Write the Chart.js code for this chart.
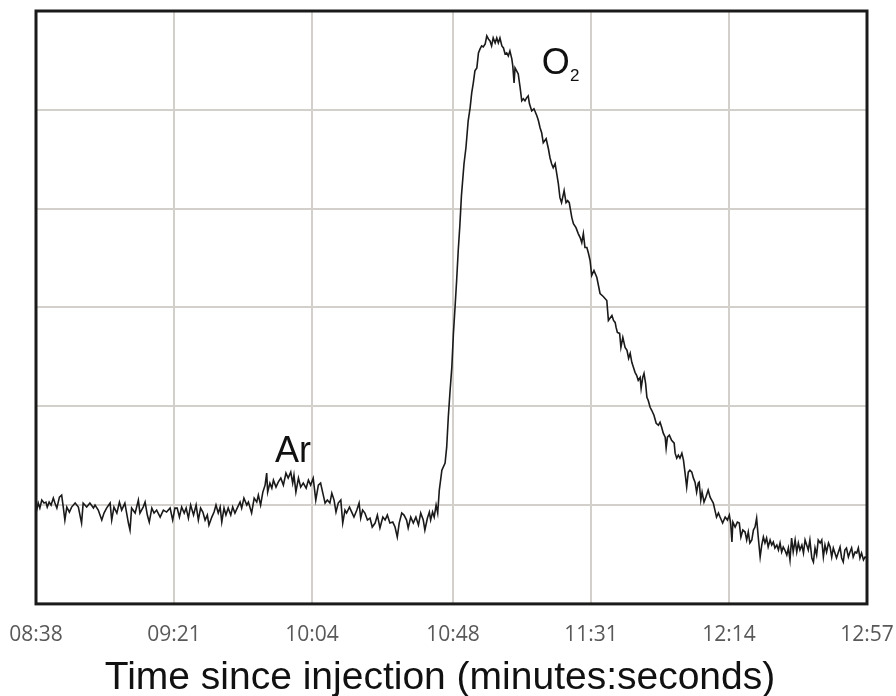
<!DOCTYPE html>
<html>
<head>
<meta charset="utf-8">
<script src="https://cdn.jsdelivr.net/npm/chart.js@4.4.1/dist/chart.umd.min.js"></script>
<style>
    html, body { margin: 0; padding: 0; background: #fff; }
    #wrap { width: 896px; height: 696px; }
</style>
</head>
<body>
<div id="wrap"><canvas id="myChart" width="896" height="696"></canvas></div>
<script>
// x axis tick labels (minutes:seconds since injection)
var tickLabels = ['08:38', '09:21', '10:04', '10:48', '11:31', '12:14', '12:57'];

// detector trace: time in seconds, signal in arbitrary units (one grid step = 99)
var timeSec = [
    518.0, 518.7, 519.2, 519.8, 520.5, 521.1, 521.5, 522.1, 522.7, 523.4, 523.9, 524.5, 525.3, 526.0, 526.5, 527.0, 527.6, 528.4, 529.1, 530.2,
    531.2, 532.2, 532.7, 533.8, 534.8, 535.9, 536.4, 537.4, 538.5, 539.2, 540.0, 541.1, 541.6, 542.3, 543.2, 544.0, 544.7, 545.7, 546.8, 547.3,
    547.8, 548.9, 549.9, 550.4, 551.4, 552.0, 552.7, 553.3, 554.1, 554.8, 555.6, 556.7, 557.7, 558.7, 559.8, 560.6, 561.3,
    562.0, 562.7, 563.4, 564.2, 564.8, 565.5, 566.2, 567.1, 567.9, 568.6, 569.3, 570.0, 570.7, 571.4, 571.9, 572.8, 573.5, 574.1, 574.8, 575.4,
    575.9, 576.6, 577.2, 577.9, 578.7, 579.3, 580.0, 580.7, 581.6, 582.1, 582.8, 583.7, 584.2, 585.2, 586.0, 586.8, 587.3, 588.0, 588.7, 589.4,
    589.9, 590.2, 590.9, 591.5, 592.0, 592.8, 593.5, 594.3, 595.1, 595.9, 596.6, 597.4, 598.0, 598.4, 599.0, 599.8, 600.5, 601.3, 602.2, 602.9,
    603.6, 604.4, 605.2, 606.0,
    606.7, 607.4, 608.1, 608.8, 609.6, 610.2, 610.9, 611.5, 612.2, 613.0, 613.6, 614.3, 614.8, 615.7, 616.4, 617.1, 618.0, 618.7, 619.2, 619.8,
    620.5, 621.3, 622.1, 622.8, 623.7, 624.4, 625.2, 626.1, 626.8, 627.5, 628.3, 629.2, 629.9, 630.6, 631.2, 632.0, 632.7, 633.5, 634.0, 634.8,
    635.6, 636.4, 637.2, 637.9, 638.7, 639.2, 640.0, 640.6, 641.0, 641.6, 642.1, 642.7, 643.2, 643.7, 644.5,
    645.5, 646.0, 646.5, 647.0, 647.6, 648.1, 648.6, 649.1, 649.6, 650.1, 650.6, 651.4, 652.0, 652.7, 653.3, 653.8, 654.3, 654.8, 655.4, 655.9,
    656.4, 656.9, 657.4, 658.0, 658.5, 659.0, 659.5, 660.0, 660.5, 661.1, 661.6, 662.1, 662.6, 663.2, 663.7, 664.2, 664.7, 665.2, 665.7, 666.3,
    666.6, 667.0, 667.3, 667.8, 668.3, 668.9, 669.4, 669.9, 670.4, 670.9, 671.4, 671.8, 672.5, 673.2, 674.1, 674.6, 675.1, 675.6, 676.1, 677.0,
    677.7, 678.2, 678.7, 679.2, 679.8, 680.3, 680.8, 681.3, 681.8, 682.6, 683.2, 683.7, 684.2, 685.0, 685.5, 686.3, 687.0, 687.6, 688.1, 688.6,
    689.1, 689.7, 690.2, 690.7, 691.2, 691.9, 692.8, 693.8, 694.8, 695.9, 696.4, 697.5, 698.0, 698.5, 698.8, 699.2, 699.9, 700.3, 700.9, 701.6,
    702.2, 702.7, 703.2, 703.7, 704.2, 704.7, 705.2, 705.7, 706.3, 706.6, 707.1, 707.5, 708.0, 708.4, 708.8, 709.4, 709.9, 710.6, 711.3, 712.0,
    712.5, 713.0, 713.5, 714.1, 714.4, 714.8, 715.4, 716.1, 716.9, 717.2, 717.7, 718.2, 718.7, 719.3, 719.8, 720.3, 720.8, 721.3, 721.8, 722.4,
    722.9, 723.4, 723.9, 724.4, 724.7, 725.2, 725.6, 726.2, 726.8, 727.5, 728.1, 728.6, 729.1, 729.6, 730.1, 730.7, 731.2, 732.0, 732.8, 733.5,
    734.1, 734.5, 734.9, 735.2, 735.9, 736.6, 737.2, 737.7, 738.3, 739.0, 739.5, 740.0, 740.5, 741.1, 741.6, 742.1, 742.6, 743.1, 743.7, 744.2,
    744.7, 745.2, 745.7, 746.2, 746.8, 747.3, 747.8, 748.3, 748.9, 749.4, 749.9, 750.4, 750.9, 751.4, 752.0, 752.5, 753.0, 753.5, 754.0, 754.6,
    755.1, 755.6, 756.1, 756.7, 757.2, 757.7, 758.2, 758.7, 759.2, 759.8, 760.3, 760.8, 761.3, 761.8, 762.4, 762.9, 763.4, 763.9, 764.4, 765.0,
    765.5, 766.0, 766.5, 767.0, 767.5, 768.1, 768.6, 769.1, 769.6, 770.1, 770.6, 771.2, 771.7, 772.2, 772.7, 773.3, 773.8, 774.3, 774.8, 775.3,
    775.9, 776.4, 777.0
];
var signal = [
    91, 101, 96, 104, 101, 102, 97, 102, 99, 106, 101, 96, 107, 109, 97, 84, 97, 92, 97, 101,
    97, 81, 101, 97, 101, 96, 99, 94, 84, 91, 96, 101, 84, 97, 91, 102, 94, 101, 81, 74,
    96, 91, 104, 91, 97, 102, 89, 82, 96, 91, 94, 87, 94, 92, 96, 84, 96,
    96, 87, 97, 91, 96, 86, 99, 89, 99, 84, 96, 92, 84, 89, 79, 87, 92, 99, 91, 97,
    82, 96, 89, 96, 89, 97, 91, 96, 102, 96, 106, 99, 102, 91, 106, 102, 109, 99, 112, 119,
    131, 112, 121, 116, 124, 117, 122, 126, 119, 131, 126, 132, 121, 129, 112, 126, 117, 121, 116, 124,
    119, 126, 104, 119,
    121, 111, 101, 104, 101, 111, 104, 92, 101, 104, 81, 94, 91, 97, 92, 87, 94, 101, 86, 94,
    91, 84, 86, 77, 81, 89, 76, 87, 84, 89, 81, 82, 77, 67, 81, 91, 89, 84, 76, 87,
    81, 87, 79, 91, 84, 74, 86, 92, 84, 92, 87, 99, 91, 114, 134,
    141, 157, 187, 211, 237, 271, 297, 324, 354, 379, 409, 441, 457, 484, 497, 512, 522, 534, 537, 552,
    556, 559, 558, 561, 569, 566, 564, 559, 567, 562, 567, 562, 567, 559, 557, 551, 552, 549, 554, 546,
    539, 522, 537, 534, 531, 517, 504, 506, 504, 507, 509, 501, 494, 496, 489, 484, 477, 472, 462, 466,
    456, 447, 441, 437, 441, 431, 421, 407, 402, 414, 402, 404, 402, 387, 381, 377, 371, 367, 362, 371,
    357, 357, 351, 344, 329, 334, 327, 311, 308, 304, 284, 289, 284, 282, 277, 272, 271, 257, 267, 257,
    254, 246, 251, 242, 237, 232, 229, 224, 227, 216, 227, 231, 221, 207, 204, 197, 194, 189, 181, 179,
    182, 177, 171, 167, 156, 167, 169, 164, 161, 151, 146, 149, 146, 151, 144, 131, 117, 132, 134, 132,
    126, 122, 112, 121, 122, 104, 112, 102, 107, 114, 107, 104, 101, 94, 87, 91, 87, 81, 87, 84,
    89, 81, 62, 82, 77, 82, 81, 67, 74, 72, 64, 72, 61, 64, 74, 77, 86, 67, 47, 59,
    67, 61, 66, 57, 64, 59, 62, 56, 59, 54, 61, 52, 57, 54, 49, 56, 44, 66, 52, 64,
    52, 61, 54, 59, 51, 64, 59, 54, 64, 46, 42, 56, 49, 64, 61, 64, 47, 59, 52, 61,
    57, 47, 56, 51, 46, 52, 57, 46, 42, 54, 56, 47, 52, 56, 47, 52, 51, 56, 46, 51,
    44, 47, 46
];

// peak names written on the plot, anchored at (time, signal) of their baseline-left corner
var peakNames = ['Ar', 'O', '2'];
var peakTime = [592.5, 675.6, 684.4];
var peakLevel = [142, 531, 524];
var peakSize = [36, 36, 17];

function toSec(s) {
    var p = s.split(':');
    return Number(p[0]) * 60 + Number(p[1]);
}
var tickSecs = tickLabels.map(toSec);

var points = timeSec.map(function (t, i) {
    return { x: t, y: signal[i] };
});

// black frame round the plot area
var frame = {
    id: 'frame',
    afterDatasetsDraw: function (chart) {
        var a = chart.chartArea, c = chart.ctx;
        c.save();
        c.strokeStyle = '#1a1a1a';
        c.lineWidth = 3;
        c.strokeRect(a.left, a.top, a.right - a.left, a.bottom - a.top);
        c.restore();
    }
};

// peak labels
var peakText = {
    id: 'peakText',
    afterDatasetsDraw: function (chart) {
        var xs = chart.scales.x, ys = chart.scales.y, c = chart.ctx;
        c.save();
        c.fillStyle = '#111';
        c.textBaseline = 'alphabetic';
        c.textAlign = 'left';
        peakNames.forEach(function (txt, i) {
            c.font = peakSize[i] + 'px "Liberation Sans", Arial, sans-serif';
            c.fillText(txt, xs.getPixelForValue(peakTime[i]), ys.getPixelForValue(peakLevel[i]));
        });
        c.restore();
    }
};

var ctx = document.getElementById('myChart').getContext('2d');
var myChart = new Chart(ctx, {
    type: 'line',
    data: {
        datasets: [{
            data: points,
            borderColor: '#1a1a1a',
            borderWidth: 1.6,
            pointRadius: 0,
            tension: 0,
            fill: false
        }]
    },
    options: {
        responsive: false,
        animation: false,
        devicePixelRatio: 1,
        layout: { padding: { left: 0, right: 16, top: 11, bottom: 0 } },
        plugins: {
            legend: { display: false },
            tooltip: { enabled: false },
            title: {
                display: true,
                position: 'bottom',
                text: 'Time since injection (minutes:seconds)',
                color: '#111',
                font: { family: '"Liberation Sans", Arial, sans-serif', size: 39, weight: 'normal', lineHeight: 0.9 },
                padding: { top: 0, bottom: 0 }
            }
        },
        scales: {
            x: {
                type: 'linear',
                min: tickSecs[0],
                max: tickSecs[tickSecs.length - 1],
                afterBuildTicks: function (scale) {
                    scale.ticks = tickSecs.map(function (v) { return { value: v }; });
                },
                afterFit: function (scale) { scale.height = 57; },
                ticks: {
                    callback: function (value, index) { return tickLabels[index]; },
                    color: '#595959',
                    font: { family: '"Open Sans", sans-serif', size: 21 },
                    padding: 0,
                    maxRotation: 0,
                    autoSkip: false
                },
                grid: { color: '#d3cfcb', lineWidth: 2, drawTicks: true, tickLength: 19, tickColor: 'rgba(0,0,0,0)' },
                border: { display: false }
            },
            y: {
                min: 0,
                max: 594,
                ticks: { display: false, stepSize: 99 },
                grid: { color: '#d3cfcb', lineWidth: 2, drawTicks: false },
                border: { display: false },
                afterFit: function (scale) { scale.width = 36; }
            },
            y2: {
                position: 'right',
                display: true,
                ticks: { display: false },
                grid: { display: false, drawTicks: false },
                border: { display: false },
                afterFit: function (scale) { scale.width = 13; }
            }
        }
    },
    plugins: [frame, peakText]
});
</script>
</body>
</html>
